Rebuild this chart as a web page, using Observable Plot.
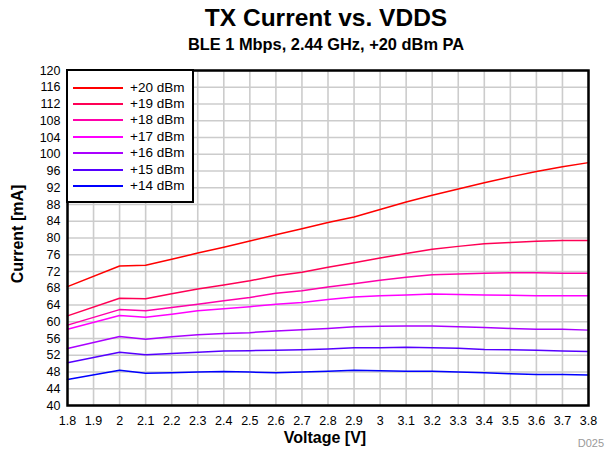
<!DOCTYPE html>
<html><head><meta charset="utf-8">
<script src="https://cdn.jsdelivr.net/npm/d3@7"></script>
<script src="https://cdn.jsdelivr.net/npm/@observablehq/plot@0.6"></script>
<style>
body{margin:0;background:#fff;font-family:"Liberation Sans",Arial,Helvetica,sans-serif;}
#wrap{position:relative;width:611px;height:451px;overflow:hidden;}
.t{position:absolute;white-space:nowrap;color:#000;}
#title{left:0;width:652px;text-align:center;top:4px;font-weight:bold;font-size:24.5px;line-height:28px;}
#subtitle{left:0;width:652px;text-align:center;top:35px;font-weight:bold;font-size:16.4px;line-height:18px;}
#ylab{left:18px;top:234px;font-weight:bold;font-size:16px;transform:translate(-50%,-50%) rotate(-90deg);}
#xlab{left:325px;top:438px;font-weight:bold;font-size:16px;transform:translate(-50%,-50%);}
#code{right:7px;top:437px;font-size:11px;color:#9a9a9a;}
#legend{position:absolute;left:66px;top:69px;width:124px;height:130px;border:2.5px solid #000;background:#fff;}
.row{position:absolute;left:0;height:16px;}
.sw{position:absolute;left:5px;width:50px;height:2px;top:7px;}
.lt{position:absolute;left:62px;top:0;font-size:13.5px;line-height:16px;white-space:nowrap;}
</style></head><body><div id="wrap"></div><script>
const voltage = [1.8, 2.0, 2.1, 2.2, 2.3, 2.4, 2.5, 2.6, 2.7, 2.8, 2.9, 3.0, 3.1, 3.2, 3.3, 3.4, 3.5, 3.6, 3.7, 3.8];
const seriesNames = ["+20 dBm", "+19 dBm", "+18 dBm", "+17 dBm", "+16 dBm", "+15 dBm", "+14 dBm"];
const seriesColors = ["#ff0000", "#ff0055", "#ff00aa", "#ff00ff", "#aa00ff", "#5500ff", "#0000ff"];
const p20 = [68.4, 73.3, 73.5, 74.9, 76.4, 77.8, 79.3, 80.8, 82.2, 83.7, 85.0, 86.8, 88.6, 90.2, 91.7, 93.2, 94.6, 95.9, 97.0, 98.0];
const p19 = [61.4, 65.6, 65.5, 66.7, 67.8, 68.8, 69.8, 71.0, 71.8, 73.0, 74.1, 75.2, 76.3, 77.3, 78.0, 78.6, 78.9, 79.2, 79.4, 79.4];
const p18 = [59.2, 62.9, 62.6, 63.4, 64.2, 65.0, 65.8, 66.8, 67.4, 68.3, 69.1, 69.9, 70.6, 71.2, 71.4, 71.6, 71.7, 71.7, 71.6, 71.6];
const p17 = [58.2, 61.5, 61.1, 61.8, 62.6, 63.1, 63.6, 64.2, 64.6, 65.3, 65.9, 66.2, 66.4, 66.6, 66.5, 66.4, 66.3, 66.2, 66.2, 66.2];
const p16 = [53.6, 56.5, 55.8, 56.4, 56.9, 57.2, 57.4, 57.8, 58.1, 58.4, 58.8, 58.9, 59.0, 59.0, 58.8, 58.6, 58.4, 58.2, 58.2, 58.0];
const p15 = [50.2, 52.7, 52.1, 52.4, 52.7, 53.0, 53.1, 53.2, 53.3, 53.5, 53.8, 53.8, 53.9, 53.8, 53.7, 53.4, 53.3, 53.2, 53.0, 52.9];
const p14 = [46.2, 48.4, 47.7, 47.8, 48.0, 48.1, 48.0, 47.8, 48.0, 48.2, 48.4, 48.3, 48.2, 48.2, 48.0, 47.8, 47.6, 47.4, 47.4, 47.3];
const xTicks = [1.8, 1.9, 2, 2.1, 2.2, 2.3, 2.4, 2.5, 2.6, 2.7, 2.8, 2.9, 3, 3.1, 3.2, 3.3, 3.4, 3.5, 3.6, 3.7, 3.8];
const yTicks = [40, 44, 48, 52, 56, 60, 64, 68, 72, 76, 80, 84, 88, 92, 96, 100, 104, 108, 112, 116, 120];
const titleText = "TX Current vs. VDDS";
const subtitleText = "BLE 1 Mbps, 2.44 GHz, +20 dBm PA";
const xLabel = "Voltage [V]";
const yLabel = "Current [mA]";
const figCode = "D025";

const allSeries = [p20, p19, p18, p17, p16, p15, p14];
const table = [];
allSeries.forEach((vals, i) => vals.forEach((c, j) => table.push({v: voltage[j], c, s: seriesNames[i]})));

const font = '"Liberation Sans",Arial,Helvetica,sans-serif';
const chart = Plot.plot({
  width: 611, height: 451,
  marginLeft: 67, marginRight: 23, marginTop: 70, marginBottom: 46,
  style: {fontFamily: font, fontSize: "12.5px", color: "#000", background: "transparent"},
  x: {type: "linear", domain: [1.8, 3.8]},
  y: {type: "linear", domain: [40, 120]},
  color: {domain: seriesNames, range: seriesColors},
  marks: [
    Plot.gridX(xTicks, {stroke: "#cccccc", strokeOpacity: 1, strokeWidth: 1.6}),
    Plot.gridY(yTicks, {stroke: "#cccccc", strokeOpacity: 1, strokeWidth: 1.6}),
    Plot.line(table, {x: "v", y: "c", z: "s", stroke: "s", strokeWidth: 1.5}),
    Plot.frame({stroke: "#000", strokeWidth: 2.5}),
    Plot.axisX(xTicks, {tickSize: 0, tickPadding: 11, tickFormat: d => String(d), label: null}),
    Plot.axisY(yTicks, {tickSize: 0, tickPadding: 7, tickFormat: d => String(d), label: null})
  ]
});

const wrap = document.getElementById("wrap");
wrap.appendChild(chart);
function addText(id, txt) {
  const d = document.createElement("div");
  d.className = "t"; d.id = id; d.textContent = txt; wrap.appendChild(d);
}
addText("title", titleText);
addText("subtitle", subtitleText);
addText("ylab", yLabel);
addText("xlab", xLabel);
addText("code", figCode);

const legend = document.createElement("div");
legend.id = "legend";
seriesNames.forEach((name, i) => {
  const row = document.createElement("div");
  row.className = "row";
  row.style.top = Math.round(8.5 + i * 16.45) + "px";
  const sw = document.createElement("span");
  sw.className = "sw"; sw.style.background = seriesColors[i];
  const lt = document.createElement("span");
  lt.className = "lt"; lt.textContent = name;
  row.appendChild(sw); row.appendChild(lt);
  legend.appendChild(row);
});
wrap.appendChild(legend);
</script></body></html>
